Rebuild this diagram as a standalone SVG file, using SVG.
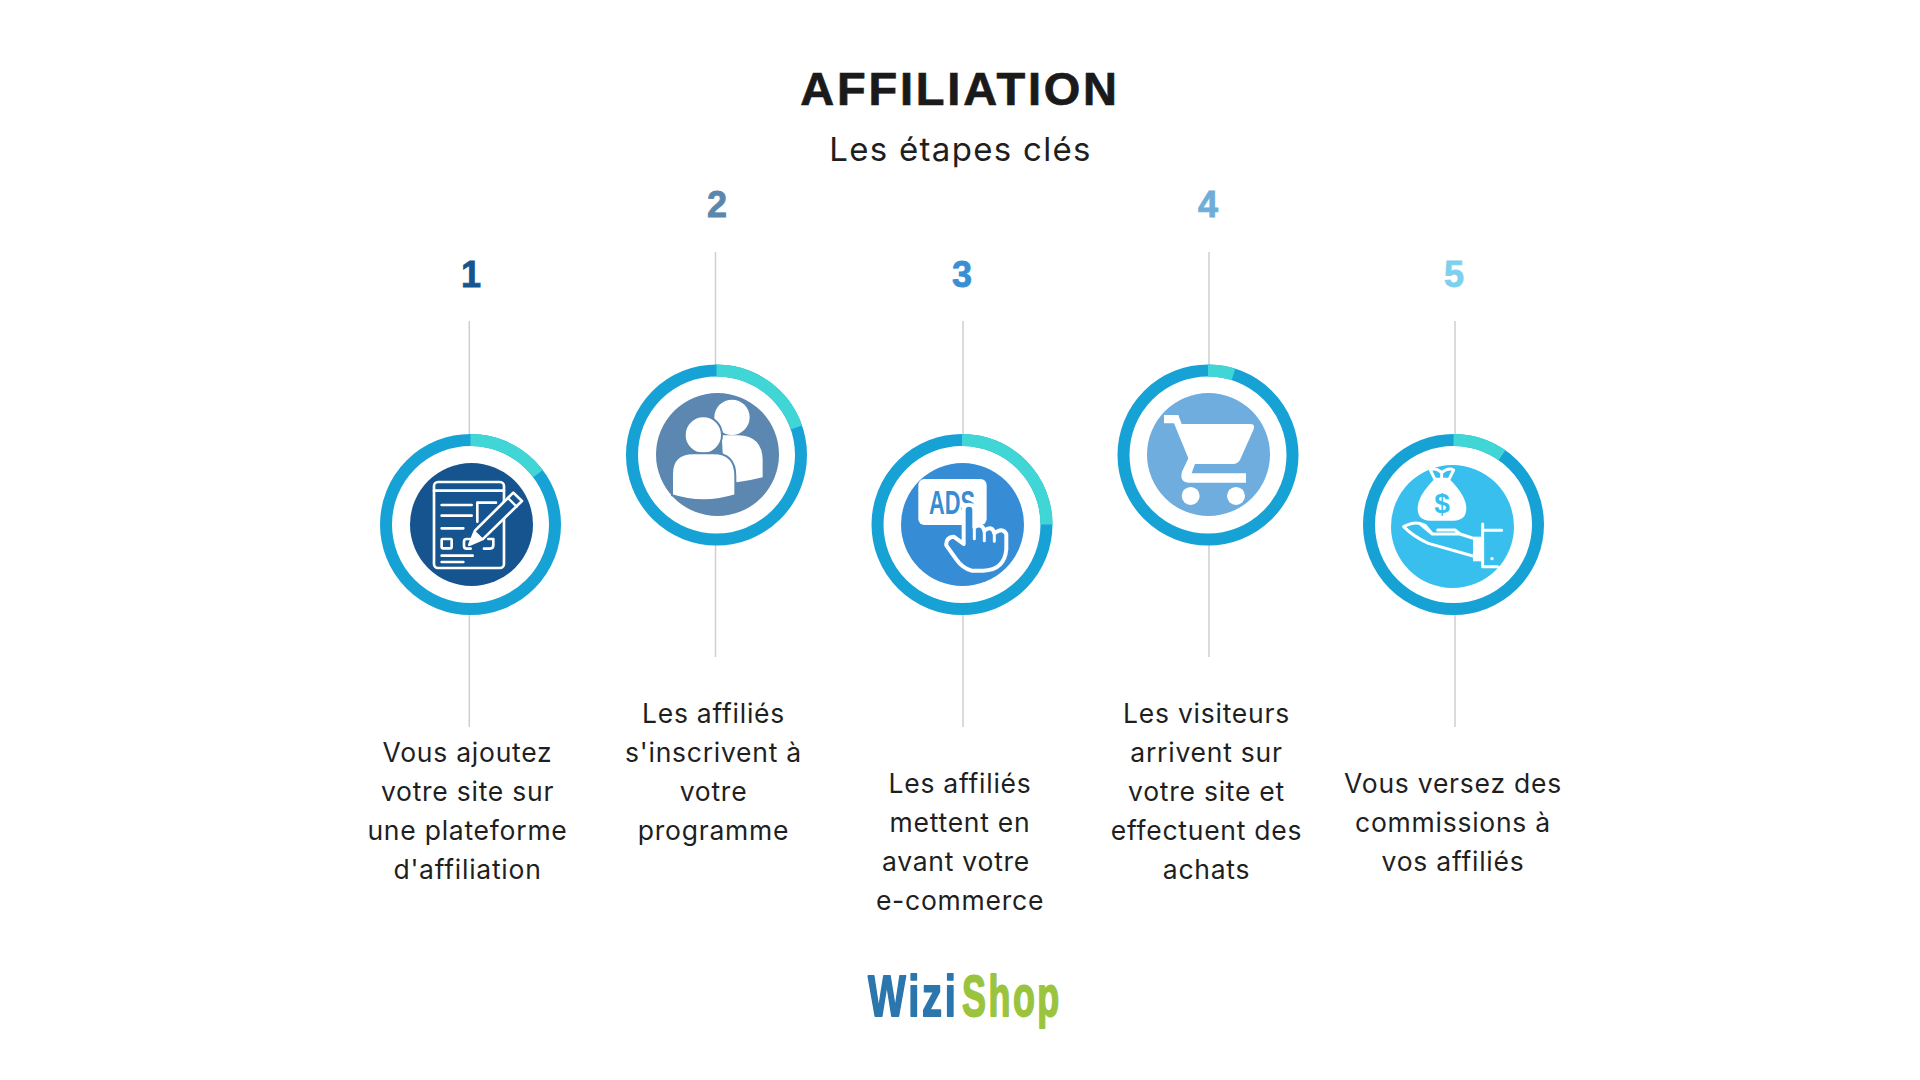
<svg xmlns="http://www.w3.org/2000/svg" width="1920" height="1080" viewBox="0 0 1920 1080">
<style>
.t{font-family:"Inter","Liberation Sans",sans-serif;font-size:26.5px;fill:#1f1f1f;text-anchor:middle;letter-spacing:.75px}
.n{font-family:"Liberation Sans",Arial,sans-serif;font-size:36px;font-weight:700;text-anchor:middle;stroke-width:.8px}
.c{stroke:#cfcfcf;stroke-width:1.5;fill:none}
.ring{fill:none;stroke:#17a2d6;stroke-width:12}
.arc{fill:none;stroke:#40d6d6;stroke-width:12}
.w{fill:#fff}
.o{fill:none;stroke:#fff;stroke-linecap:round;stroke-linejoin:round}
</style>
<rect width="1920" height="1080" fill="#fff"/>
<text id="title" x="960" y="105" text-anchor="middle" font-family="Liberation Sans, Arial, sans-serif" font-weight="700" font-size="47" letter-spacing="2.8" fill="#1a1a1a" stroke="#1a1a1a" stroke-width=".7">AFFILIATION</text>
<text id="subtitle" x="960.5" y="160.5" text-anchor="middle" font-family="Inter, Liberation Sans, sans-serif" font-size="33" letter-spacing="1.3" fill="#1f1f1f">Les étapes clés</text>
<g id="connectors">
<path class="c" d="M469.3 321V434M469.3 614V727"/>
<path class="c" d="M715.5 252V365M715.5 545V657"/>
<path class="c" d="M963 321V434M963 614V727"/>
<path class="c" d="M1209 252V365M1209 545V657"/>
<path class="c" d="M1455 321V434M1455 614V727"/>
</g>
<g id="node1">
<text class="n" x="471" y="287" fill="#15558f" stroke="#15558f">1</text>
<circle class="ring" cx="470.5" cy="524.5" r="84.5"/>
<circle class="arc" cx="470.5" cy="524.5" r="84.5" pathLength="360" stroke-dasharray="53 360" transform="rotate(-90 470.5 524.5)"/>
<circle cx="471.5" cy="524.5" r="61.5" fill="#15548e"/>
<g transform="translate(360 420) scale(.3333)">
<g class="o" stroke-width="8">
<rect x="222" y="186" width="210" height="258" rx="12"/>
<path d="M222 212H432M245 255H335M245 287H335M245 325H310M245 407H338M245 426H310"/>
<rect x="245" y="357" width="30" height="28" rx="3"/>
<path d="M352 305V248H408M330 357H320Q312 357 312 365V378Q312 386 320 386H332M372 386H390Q400 386 400 376V357H385"/>
</g>
<path d="M328 374L345 332L460 218L486 243L370 356Z" fill="#15548e" stroke="#fff" stroke-width="8" stroke-linejoin="round"/>
<path class="w" d="M328 374L345 335L368 357Z" stroke="#fff" stroke-width="4"/>
<path class="o" stroke-width="7" d="M444 234L470 260"/>
</g>
</g>
<g id="node2">
<text class="n" x="717" y="217" fill="#5b87ae" stroke="#5b87ae">2</text>
<circle class="ring" cx="716.5" cy="455" r="84.5"/>
<circle class="arc" cx="716.5" cy="455" r="84.5" pathLength="360" stroke-dasharray="71 360" transform="rotate(-90 716.5 455)"/>
<circle cx="717.5" cy="454.5" r="61.5" fill="#5b87b0"/>
<g transform="translate(610 350) scale(.3333)">
<circle class="w" cx="366" cy="202" r="53"/>
<path class="w" d="M335 256H385Q458 258 458 332V382Q420 392 380 397L340 340Z"/>
<circle class="w" cx="280" cy="255" r="56" stroke="#5b87b0" stroke-width="6"/>
<path class="w" d="M186 372Q186 310 250 310H310Q376 310 376 378V436Q280 466 186 436Z" stroke="#5b87b0" stroke-width="6"/>
</g>
</g>
<g id="node3">
<text class="n" x="962" y="287" fill="#3a8fd3" stroke="#3a8fd3">3</text>
<circle class="ring" cx="962" cy="524.5" r="84.5"/>
<circle class="arc" cx="962" cy="524.5" r="84.5" pathLength="360" stroke-dasharray="90 360" transform="rotate(-90 962 524.5)"/>
<circle cx="962.5" cy="524.5" r="61.5" fill="#378dd5"/>
<g transform="translate(855 420) scale(.3333)">
<rect class="w" x="190" y="177" width="205" height="138" rx="18"/>
<text x="222" y="283" font-family="Liberation Sans, Arial, sans-serif" font-weight="700" font-size="98" fill="#378dd5" textLength="138" lengthAdjust="spacingAndGlyphs">ADS</text>
<path d="M326 270Q326 254 342 254Q358 254 358 270V322Q382 308 388 332Q412 315 418 340Q442 320 454 342V388Q448 450 385 452H350Q322 444 304 418L274 376Q272 352 296 350L326 372Z" fill="#378dd5" stroke="#fff" stroke-width="12" stroke-linejoin="round"/>
<path class="o" stroke-width="9" d="M358 322V356M388 332V362M418 340V364"/>
</g>
</g>
<g id="node4">
<text class="n" x="1208" y="217" fill="#6fadd9" stroke="#6fadd9">4</text>
<circle class="ring" cx="1208" cy="455" r="84.5"/>
<circle class="arc" cx="1208" cy="455" r="84.5" pathLength="360" stroke-dasharray="17.6 360" transform="rotate(-90 1208 455)"/>
<circle cx="1208.5" cy="454.5" r="61.5" fill="#6fadde"/>
<g transform="translate(1100 350) scale(.3333)">
<path class="w" d="M192 195H235L245 222H450Q468 222 460 240L420 330Q412 342 400 342H285L275 370H438V398H265Q238 395 246 365L265 325L222 220H192Z"/>
<circle class="w" cx="272" cy="438" r="27"/>
<circle class="w" cx="408" cy="438" r="27"/>
</g>
</g>
<g id="node5">
<text class="n" x="1454" y="287" fill="#7dd0ee" stroke="#7dd0ee">5</text>
<circle class="ring" cx="1453.5" cy="524.5" r="84.5"/>
<circle class="arc" cx="1453.5" cy="524.5" r="84.5" pathLength="360" stroke-dasharray="35 360" transform="rotate(-90 1453.5 524.5)"/>
<circle cx="1452.5" cy="526.5" r="61.5" fill="#38bfee"/>
<g transform="translate(1345 420) scale(.3333)">
<path class="w" d="M268 178Q218 228 218 265Q218 302 255 302H325Q364 302 364 265Q364 228 314 178Z"/>
<path class="o" stroke-width="9" d="M270 178L256 150Q272 142 290 158Q310 142 326 150L312 178ZM290 158V178"/>
<text x="291" y="279" text-anchor="middle" font-family="Liberation Sans, Arial, sans-serif" font-weight="700" font-size="84" fill="#38bfee">$</text>
<path class="o" stroke-width="9" d="M176 320Q212 300 240 316L262 342H345L382 354M176 320Q205 350 250 370L384 408M226 312L262 342M278 330H330L348 344"/>
<rect class="w" x="384" y="350" width="30" height="74"/>
<path class="o" stroke-width="9" d="M413 312V440H458M413 331H470"/>
<circle class="w" cx="441" cy="416" r="5"/>
</g>
</g>
<g id="text1"><text class="t" x="467.5" y="762">Vous ajoutez</text><text class="t" x="467.5" y="801">votre site sur</text><text class="t" x="467.5" y="840">une plateforme</text><text class="t" x="467.5" y="879">d'affiliation</text></g>
<g id="text2"><text class="t" x="713.5" y="723">Les affiliés</text><text class="t" x="713.5" y="762">s'inscrivent à</text><text class="t" x="713.5" y="801">votre</text><text class="t" x="713.5" y="840">programme</text></g>
<g id="text3"><text class="t" x="960" y="793">Les affiliés</text><text class="t" x="960" y="832">mettent en</text><text class="t" x="956" y="871">avant votre</text><text class="t" x="960" y="910">e-commerce</text></g>
<g id="text4"><text class="t" x="1206.5" y="723">Les visiteurs</text><text class="t" x="1206.5" y="762">arrivent sur</text><text class="t" x="1206.5" y="801">votre site et</text><text class="t" x="1206.5" y="840">effectuent des</text><text class="t" x="1206.5" y="879">achats</text></g>
<g id="text5"><text class="t" x="1453" y="793">Vous versez des</text><text class="t" x="1453" y="832">commissions à</text><text class="t" x="1453" y="871">vos affiliés</text></g>
<g id="logo" font-family="Liberation Sans, sans-serif" font-weight="700" font-size="58" stroke-width="1.8" stroke-linejoin="round" letter-spacing="4">
<text transform="translate(868 1016) scale(.69 1)" fill="#2a76ad" stroke="#2a76ad">Wizi</text>
<text transform="translate(962 1016) scale(.62 1)" fill="#9ac43d" stroke="#9ac43d">Shop</text>
</g>
</svg>
